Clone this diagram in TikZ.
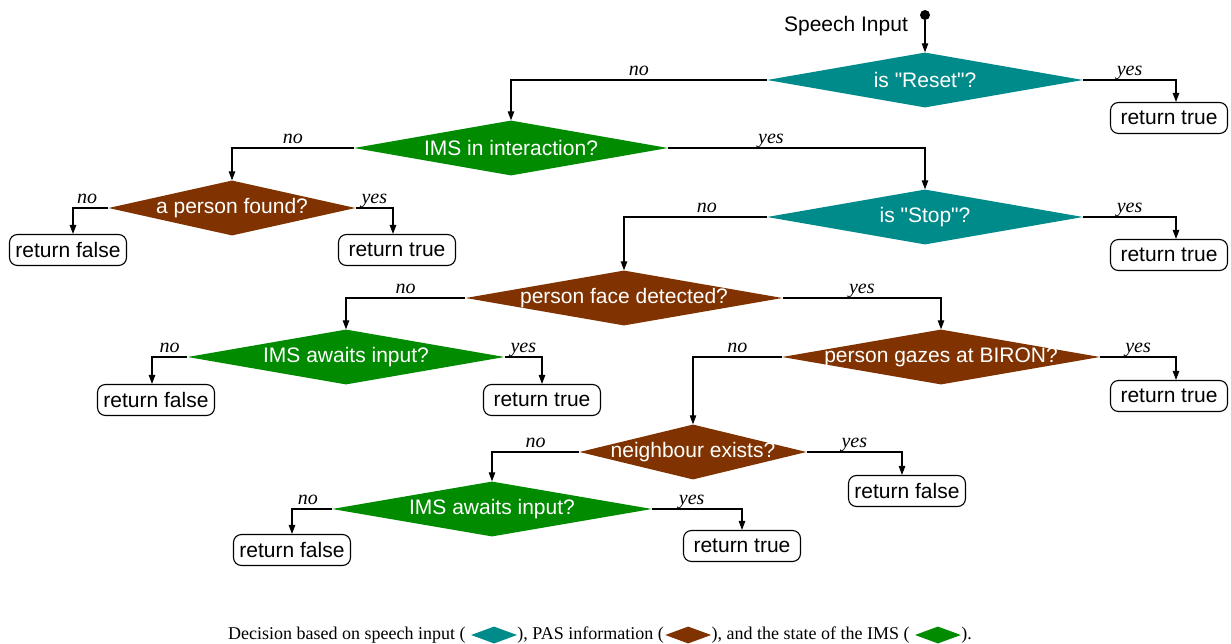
\documentclass[tikz,border=0pt]{standalone}
\usepackage{fontspec}
\setmainfont{Liberation Serif}
\setsansfont{Liberation Sans}[Ligatures=TeXOff]
\usetikzlibrary{shapes.geometric,arrows.meta}
\definecolor{cteal}{RGB}{0,139,139}
\definecolor{cgreen}{RGB}{0,139,0}
\definecolor{cbrown}{RGB}{128,51,0}
\begin{document}
\begin{tikzpicture}[x=1pt,y=-1pt,
  dec/.style={diamond, fill=#1, draw=none, inner sep=0pt, minimum height=55pt, text=white, font=\sffamily\fontsize{21}{25}\selectfont},
  ret/.style={draw, rounded corners=8pt, line width=1.1pt, minimum width=117pt, minimum height=31pt, inner sep=0pt, font=\sffamily\fontsize{21}{25}\selectfont},
  arr/.style={-{Triangle[length=9pt,width=6.5pt]}, line width=1.1pt},
  lab/.style={above, inner sep=0pt, yshift=4pt, text depth=0pt, font=\itshape\fontsize{20}{24}\selectfont},
  leg/.style={inner sep=0pt, anchor=base west, font=\fontsize{18}{22}\selectfont},
  ldia/.style={diamond, fill=#1, draw=none, inner sep=0pt, minimum width=46pt, minimum height=17pt, anchor=west}]
\useasboundingbox (0,0) rectangle (1231,644);

% start
\node[circle, fill, inner sep=0pt, minimum size=10pt] (s) at (925,15) {};
\node[font=\sffamily\fontsize{21}{25}\selectfont, inner sep=0pt] (si) at (846,26) {Speech Input};

% decisions
\node[dec=cteal, minimum width=316pt] (d1) at (925,80) {\makebox[0pt]{is "Reset"?}};
\node[dec=cgreen, minimum width=314pt] (d2) at (511,148) {\makebox[0pt]{IMS in interaction?}};
\node[dec=cbrown, minimum width=247pt] (d3) at (232,208) {\makebox[0pt]{a person found?}};
\node[dec=cteal, minimum width=316pt] (d4) at (925,217) {\makebox[0pt]{is "Stop"?}};
\node[dec=cbrown, minimum width=317pt] (d5) at (624,298) {\makebox[0pt]{person face detected?}};
\node[dec=cgreen, minimum width=317pt] (d6) at (346,357) {\makebox[0pt]{IMS awaits input?}};
\node[dec=cbrown, minimum width=318pt] (d7) at (941,357) {\makebox[0pt]{person gazes at BIRON?}};
\node[dec=cbrown, minimum width=227pt] (d8) at (693,452) {\makebox[0pt]{neighbour exists?}};
\node[dec=cgreen, minimum width=320pt] (d9) at (492,509) {\makebox[0pt]{IMS awaits input?}};

% results
\node[ret] (r1) at (1169,118) {return true};
\node[ret] (r2) at (1169,255) {return true};
\node[ret] (r3) at (1169,396) {return true};
\node[ret] (f1) at (68,250) {return false};
\node[ret] (t1) at (397,250) {return true};
\node[ret] (f2) at (156,400) {return false};
\node[ret] (t2) at (542,400) {return true};
\node[ret] (f3) at (907,491) {return false};
\node[ret] (f4) at (292,550) {return false};
\node[ret] (t4) at (742,546) {return true};

% connectors
\draw[arr] (s) -- (d1.north);
\draw[arr] (d1.west) -| (d2.north) node[lab, pos=0.25] {no};
\draw[arr] (d1.east) -| ([xshift=7pt]r1.north) node[lab, pos=0.25] {yes};
\draw[arr] (d2.west) -| (d3.north) node[lab, pos=0.25] {no};
\draw[arr] (d2.east) -| (d4.north) node[lab, pos=0.2] {yes};
\draw[arr] (d3.west) -| ([xshift=5pt]f1.north) node[lab, pos=0.3] {no};
\draw[arr] (d3.east) -| ([xshift=-4pt]t1.north) node[lab, pos=0.25] {yes};
\draw[arr] (d4.west) -| (d5.north) node[lab, pos=0.21] {no};
\draw[arr] (d4.east) -| ([xshift=7pt]r2.north) node[lab, pos=0.25] {yes};
\draw[arr] (d5.west) -| (d6.north) node[lab, pos=0.25] {no};
\draw[arr] (d5.east) -| (d7.north) node[lab, pos=0.25] {yes};
\draw[arr] (d6.west) -| ([xshift=-4pt]f2.north) node[lab, pos=0.25] {no};
\draw[arr] (d6.east) -| (t2.north) node[lab, pos=0.25] {yes};
\draw[arr] (d7.west) -| (d8.north) node[lab, pos=0.25] {no};
\draw[arr] (d7.east) -| ([xshift=7pt]r3.north) node[lab, pos=0.25] {yes};
\draw[arr] (d8.west) -| (d9.north) node[lab, pos=0.25] {no};
\draw[arr] (d8.east) -| ([xshift=-5pt]f3.north) node[lab, pos=0.25] {yes};
\draw[arr] (d9.west) -| (f4.north) node[lab, pos=0.3] {no};
\draw[arr] (d9.east) -| (t4.north) node[lab, pos=0.22] {yes};

% legend
\node[leg] (l1) at (228,639) {Decision based on speech input (};
\node[ldia=cteal] (ld1) at ([xshift=5pt]l1.east |- 0,635) {};
\node[leg] (l2) at (ld1.east |- l1.base) {), PAS information (};
\node[ldia=cbrown] (ld2) at ([xshift=1pt]l2.east |- ld1.west) {};
\node[leg] (l3) at (ld2.east |- l1.base) {), and the state of the IMS (};
\node[ldia=cgreen] (ld3) at ([xshift=5pt]l3.east |- ld1.west) {};
\node[leg] (l4) at (ld3.east |- l1.base) {).};
\end{tikzpicture}
\end{document}
